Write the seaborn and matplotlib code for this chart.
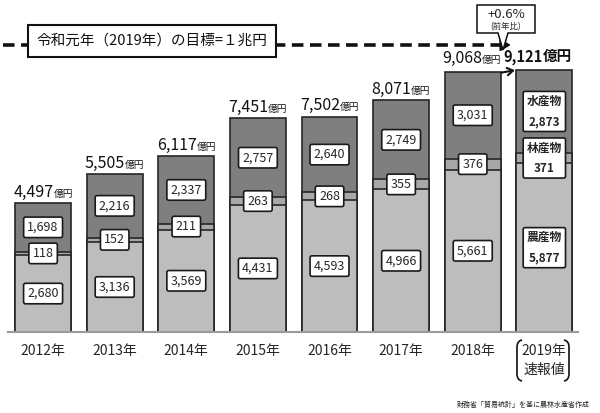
import numpy as np
import matplotlib
matplotlib.use("Agg")
import matplotlib.pyplot as plt
import seaborn as sns
from matplotlib.path import Path
from matplotlib.patches import PathPatch

# ---- data ----
years = ["2012年", "2013年", "2014年", "2015年", "2016年", "2017年", "2018年", "2019年\n速報値"]
agri = [2680, 3136, 3569, 4431, 4593, 4966, 5661, 5877]      # 農産物
forest = [118, 152, 211, 263, 268, 355, 376, 371]            # 林産物
fish = [1698, 2216, 2337, 2757, 2640, 2749, 3031, 2873]      # 水産物
totals = [4497, 5505, 6117, 7451, 7502, 8071, 9068, 9121]
target = 10000
title_text = "令和元年（2019年）の目標=１兆円"
source_text = "財務省「貿易統計」を基に農林水産省作成"

sns.set_theme(style="white")
plt.rcParams['font.family'] = ['Noto Sans CJK JP', 'DejaVu Sans']

W, H, DPI = 600, 413, 100
fig = plt.figure(figsize=(W / DPI, H / DPI), dpi=DPI)
ax = fig.add_axes([8 / W, (H - 332) / H, 570 / W, 11000 * 0.0287 / H])

agri_a = np.array(agri)
forest_a = np.array(forest)
fish_a = np.array(fish)
stack_top = agri_a + forest_a + fish_a
stack_mid = agri_a + forest_a

c_fish, c_forest, c_agri = "#7f7f7f", "#a8a8a8", "#bdbdbd"
ec, lw = "#262626", 1.2
bw = 0.78
sns.barplot(x=years, y=stack_top, color=c_fish, width=bw, edgecolor=ec, linewidth=lw, ax=ax, saturation=1)
sns.barplot(x=years, y=stack_mid, color=c_forest, width=bw, edgecolor=ec, linewidth=lw, ax=ax, saturation=1)
sns.barplot(x=years, y=agri_a, color=c_agri, width=bw, edgecolor=ec, linewidth=lw, ax=ax, saturation=1)

ax.set_xlim(-0.49, 7.47)
ax.set_ylim(0, 11000)
ax.set_yticks([])
ax.set_ylabel("")
for s in ["top", "right", "left"]:
    ax.spines[s].set_visible(False)
ax.spines["bottom"].set_color("#9a9a9a")
ax.spines["bottom"].set_linewidth(1.5)
ax.set_xticks(range(len(years)))
ax.set_xticklabels(years, fontsize=10, linespacing=1.35)
ax.tick_params(axis="x", length=0, pad=9)

# inner value labels
box = dict(boxstyle="round,pad=0.3,rounding_size=0.15", fc="white", ec="#1a1a1a", lw=1.2)
for i in range(len(years)):
    ys = [agri[i] / 2, agri[i] + forest[i] / 2, stack_mid[i] + fish[i] / 2]
    vals = [agri[i], forest[i], fish[i]]
    names = ["農産物", "林産物", "水産物"]
    for y, v, nm in zip(ys, vals, names):
        if i == len(years) - 1:
            ax.text(i, y, f"{nm}\n{v:,}", ha="center", va="center", fontsize=8.5,
                    fontweight="bold", linespacing=1.7, bbox=box, zorder=5)
        else:
            ax.text(i, y, f"{v:,}", ha="center", va="center", fontsize=9, bbox=box, zorder=5)

# totals above bars
renderer = fig.canvas.get_renderer()
for i, tot in enumerate(totals):
    last = i == len(totals) - 1
    dy = 6.5 if i >= 6 else 4.5
    xshift = -7 if last else (-1 if i == 6 else 0)
    kw = dict(xy=(i, tot), textcoords="offset points", ha="left", va="baseline",
              annotation_clip=False, color="#111111")
    t1 = ax.annotate(f"{tot:,}", xytext=(0, dy), fontsize=11.5 if not last else 10.5,
                     fontweight="bold" if last else "normal", **kw)
    t2 = ax.annotate("億円", xytext=(0, dy), fontsize=7 if not last else 10.5,
                     fontweight="bold" if last else "normal", **kw)
    w1 = t1.get_window_extent(renderer).width
    w2 = t2.get_window_extent(renderer).width
    f = 72 / DPI
    t1.set_position(((-(w1 + w2) / 2 + xshift) * f, dy))
    t2.set_position((((w1 - w2) / 2 + xshift) * f, dy))

# target dashed line
ax.plot([-0.56, 6.45], [target, target], ls=(0, (3.2, 1.8)), lw=2.6, color="#111111",
        clip_on=False, solid_capstyle="butt", zorder=3)
ax.annotate("", xy=(6.57, target), xytext=(6.42, target), annotation_clip=False,
            arrowprops=dict(arrowstyle="-|>,head_length=0.5,head_width=0.3", color="#111111", lw=1.5))

# small arrow 2018 -> 2019
ax.annotate("", xy=(7 - bw / 2 - 0.02, totals[7]), xytext=(6 + bw / 2 + 0.01, totals[6] - 30),
            annotation_clip=False,
            arrowprops=dict(arrowstyle="->,head_length=0.35,head_width=0.22", color="#111111", lw=1.5,
                            shrinkA=0, shrinkB=0))

# overlay in pixel coordinates for decorations
ov = fig.add_axes([0, 0, 1, 1], facecolor="none")
ov.set_xlim(0, W)
ov.set_ylim(H, 0)
ov.axis("off")

ov.text(152, 41, title_text, ha="center", va="center", fontsize=10.5, color="#111111",
        bbox=dict(boxstyle="square,pad=0.6", fc="white", ec="#111111", lw=1.5), zorder=6)

# callout
verts = [(477, 5), (535, 5), (535, 33), (508, 33), (503, 50), (498, 33), (477, 33), (477, 5)]
codes = [Path.MOVETO] + [Path.LINETO] * 6 + [Path.CLOSEPOLY]
ov.add_patch(PathPatch(Path(verts, codes), fc="white", ec="#111111", lw=1.1, zorder=6))
ov.text(506, 15, "+0.6%", ha="center", va="center", fontsize=9.5, zorder=7)
ov.text(506, 27, "(前年比)", ha="center", va="center", fontsize=6, zorder=7)

# brackets around 2019 label
for xe, sgn in [(517, 1), (569, -1)]:
    v = [(xe + 5 * sgn, 340), (xe, 341), (xe, 347), (xe, 374), (xe, 380), (xe + 5 * sgn, 381)]
    c = [Path.MOVETO, Path.CURVE3, Path.CURVE3, Path.LINETO, Path.CURVE3, Path.CURVE3]
    ov.add_patch(PathPatch(Path(v, c), fc="none", ec="#111111", lw=1.2))

ov.text(590, 405, source_text, ha="right", va="center", fontsize=5, color="#222222")

fig.savefig("out.png", dpi=DPI, facecolor="white")
